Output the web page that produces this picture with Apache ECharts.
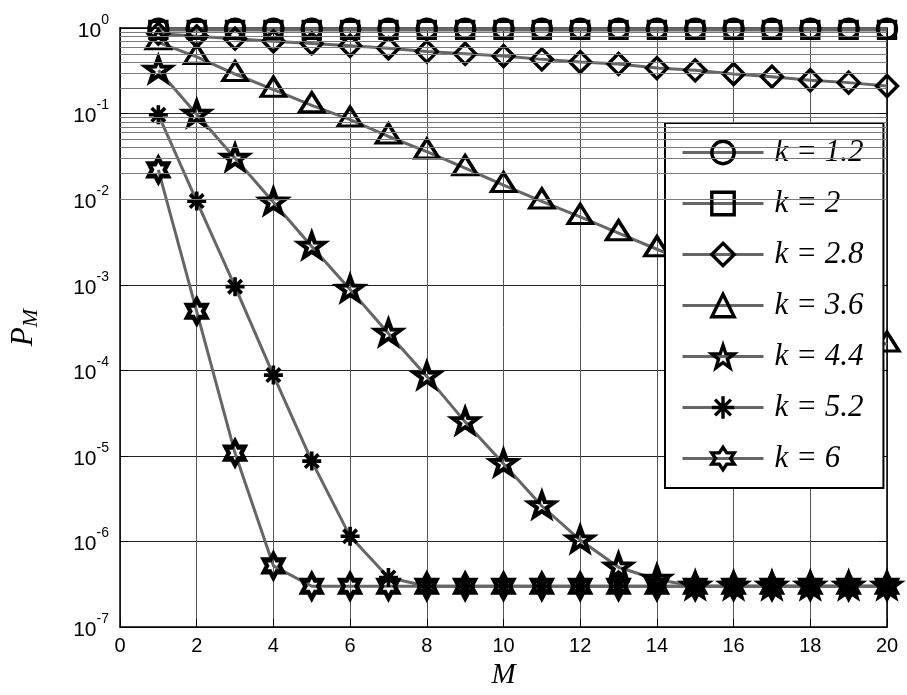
<!DOCTYPE html>
<html>
<head>
<meta charset="utf-8">
<script src="https://cdn.jsdelivr.net/npm/echarts@6/dist/echarts.min.js"></script>
<style>html,body{margin:0;padding:0;background:#fff;}#c{width:907px;height:695px;}</style>
</head>
<body>
<div id="c"></div>
<script>
// ---- data ----
const mValues = [1,2,3,4,5,6,7,8,9,10,11,12,13,14,15,16,17,18,19,20];
const seriesNames = ['k = 1.2','k = 2','k = 2.8','k = 3.6','k = 4.4','k = 5.2','k = 6'];
const k12 = [0.98,0.98,0.98,0.98,0.98,0.98,0.98,0.98,0.98,0.98,0.98,0.98,0.98,0.98,0.98,0.98,0.98,0.98,0.98,0.98];
const k2  = [0.95,0.95,0.95,0.95,0.95,0.95,0.95,0.95,0.95,0.95,0.95,0.95,0.95,0.95,0.95,0.95,0.95,0.95,0.95,0.95];
const k28 = [0.86,0.80,0.75,0.70,0.66,0.62,0.58,0.53,0.50,0.47,0.43,0.40,0.38,0.34,0.32,0.29,0.27,0.245,0.23,0.21];
const k36 = [0.68,0.46,0.29,0.19,0.125,0.085,0.054,0.036,0.023,0.0146,0.0094,0.0062,0.0040,0.0026,0.0017,0.0011,0.00072,0.00047,0.00031,0.0002];
const k44 = [0.32,0.098,0.030,0.0092,0.0028,0.00088,0.00027,0.000085,0.000025,0.0000081,0.0000026,0.00000104,0.0000005,0.00000036,3e-7,3e-7,3e-7,3e-7,3e-7,3e-7];
const k52 = [0.097,0.0095,0.00095,0.000088,0.0000087,0.00000115,3.8e-7,3e-7,3e-7,3e-7,3e-7,3e-7,3e-7,3e-7,3e-7,3e-7,3e-7,3e-7,3e-7,3e-7];
const k6  = [0.022,0.00049,0.0000108,5.2e-7,3e-7,3e-7,3e-7,3e-7,3e-7,3e-7,3e-7,3e-7,3e-7,3e-7,3e-7,3e-7,3e-7,3e-7,3e-7,3e-7];
const allData = [k12,k2,k28,k36,k44,k52,k6];
const xTicks = [0,2,4,6,8,10,12,14,16,18,20];
const yMin = 1e-7, yMax = 1;
const minorMantissas = [2,3,4,5,6,7,8,9];
const decadeExps = [-7,-6,-5,-4,-3,-2,-1];

// ---- symbols ----
const PENTA = 'path://M12 0 L14.82 8.12 L23.41 8.29 L16.57 13.48 L19.05 21.71 L12 16.8 L4.95 21.71 L7.43 13.48 L0.59 8.29 L9.18 8.12 Z';
const HEXA = 'path://M12 0 L15.46 6 L22.39 6 L18.93 12 L22.39 18 L15.46 18 L12 24 L8.54 18 L1.61 18 L5.07 12 L1.61 6 L8.54 6 Z';
const ASTER = 'path://M10 0 L10 20 M0 10 L20 10 M2.93 2.93 L17.07 17.07 M17.07 2.93 L2.93 17.07';
const symbols = ['circle','rect','diamond','triangle',PENTA,ASTER,HEXA];
const symSizes = [19,17,[21,21],[24,19],[25,23],[19,19],[19,24]];
const symOffsets = [[0,0],[0,0],[0,0],[0,-3],[0,-1],[0,0],[0,0]];
const symBorders = [3.4,3.4,3.4,3.4,4.2,3.6,4.6];

const minorLines = [];
decadeExps.forEach(e => minorMantissas.forEach(m => minorLines.push({yAxis: m * Math.pow(10, e)})));

const series = seriesNames.map((name, i) => ({
  name: name,
  type: 'line',
  data: mValues.map((m, j) => [m, allData[i][j]]),
  symbol: symbols[i],
  symbolSize: symSizes[i],
  symbolOffset: symOffsets[i],
  showAllSymbol: true,
  lineStyle: {color: '#666', width: 3},
  itemStyle: {color: 'rgba(255,255,255,0)', borderColor: '#000', borderWidth: symBorders[i]},
  emphasis: {disabled: true},
  animation: false,
  z: 3
}));
series.unshift({
  name: 'minorGrid',
  type: 'line',
  data: [],
  silent: true,
  animation: false,
  z: 1,
  markLine: {
    silent: true,
    symbol: ['none','none'],
    label: {show: false},
    animation: false,
    lineStyle: {color: '#7a7a7a', width: 1, type: 'solid'},
    emphasis: {disabled: true},
    data: minorLines
  }
});

const chart = echarts.init(document.getElementById('c'), null, {renderer: 'canvas'});
const supFmt = v => '{b|10}{s|' + Math.round(Math.log10(v)) + '}';
chart.setOption({
  backgroundColor: '#fff',
  animation: false,
  grid: {left: 120, right: 20, top: 28, bottom: 62, containLabel: false},
  xAxis: [{
    type: 'value', min: 0, max: 20, interval: 2, position: 'bottom',
    name: 'M', nameLocation: 'middle', nameGap: 31,
    nameTextStyle: {fontFamily: 'Liberation Serif', fontStyle: 'italic', fontSize: 29, color: '#000'},
    axisLine: {show: true, onZero: false, lineStyle: {color: '#000', width: 1.5}},
    axisTick: {show: true, inside: true, length: 8, lineStyle: {color: '#000'}},
    axisLabel: {fontFamily: 'Liberation Sans', fontSize: 20, color: '#000', margin: 9},
    splitLine: {show: true, lineStyle: {color: '#555', width: 1}}
  }, {
    type: 'value', min: 0, max: 20, interval: 2, position: 'top',
    axisLine: {show: true, onZero: false, lineStyle: {color: '#000', width: 1.5}},
    axisTick: {show: true, inside: true, length: 8, lineStyle: {color: '#000'}},
    axisLabel: {show: false}, splitLine: {show: false}
  }],
  yAxis: [{
    type: 'log', logBase: 10, min: yMin, max: yMax, splitNumber: 7, position: 'left',
    name: '{p|P}{m|M}', nameLocation: 'middle', nameGap: 78, nameRotate: 90,
    nameTextStyle: {rich: {
      p: {fontFamily: 'Liberation Serif', fontStyle: 'italic', fontSize: 31, color: '#000'},
      m: {fontFamily: 'Liberation Serif', fontStyle: 'italic', fontSize: 22, color: '#000', padding: [14,0,0,0]}
    }},
    axisLine: {show: true, onZero: false, lineStyle: {color: '#000', width: 1.5}},
    axisTick: {show: true, inside: true, length: 8, lineStyle: {color: '#000'}},
    axisLabel: {
      formatter: supFmt, margin: 11,
      rich: {
        b: {fontFamily: 'Liberation Sans', fontSize: 21, color: '#000', padding: [6,0,0,0]},
        s: {fontFamily: 'Liberation Sans', fontSize: 14, color: '#000', padding: [0,0,16,0]}
      }
    },
    splitLine: {show: true, lineStyle: {color: '#222', width: 1}}
  }, {
    type: 'log', logBase: 10, min: yMin, max: yMax, splitNumber: 7, position: 'right',
    axisLine: {show: true, onZero: false, lineStyle: {color: '#000', width: 1.5}},
    axisTick: {show: true, inside: true, length: 8, lineStyle: {color: '#000'}},
    axisLabel: {show: false}, splitLine: {show: false}
  }],
  legend: {
    data: seriesNames,
    orient: 'vertical',
    left: 665, top: 123,
    backgroundColor: '#fff',
    borderColor: '#000', borderWidth: 2,
    padding: [14, 20, 14, 16],
    itemWidth: 81, itemHeight: 28, itemGap: 20,
    selectedMode: false,
    itemStyle: {borderColor: '#000', borderWidth: 3.4, color: 'rgba(255,255,255,0)'},
    lineStyle: {color: '#666', width: 3},
    textStyle: {fontFamily: 'Liberation Serif', fontStyle: 'italic', fontSize: 31, color: '#000', padding: [0,0,0,6]}
  },
  series: series
});
</script>
</body>
</html>
